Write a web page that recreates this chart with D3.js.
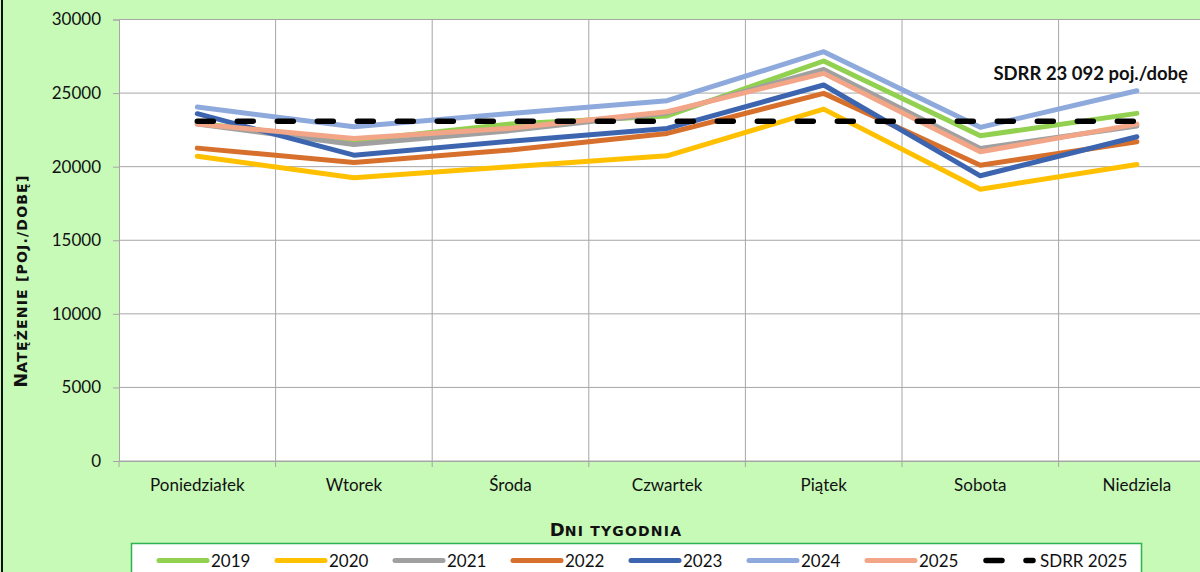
<!DOCTYPE html>
<html>
<head>
<meta charset="utf-8">
<script src="https://cdn.jsdelivr.net/npm/d3@7"></script>
<style>
  body { margin: 0; background: #c7f9b7; }
  svg { display: block; font-family: Lato, "Open Sans", sans-serif; }
</style>
</head>
<body>
<svg width="1200" height="572"></svg>
<script>
const width = 1200;
const height = 572;

const days = ["Poniedziałek", "Wtorek", "Środa", "Czwartek", "Piątek", "Sobota", "Niedziela"];
const years = ["2019", "2020", "2021", "2022", "2023", "2024", "2025"];
const v2019 = [22950, 21760, 22900, 23450, 27180, 22100, 23620];
const v2020 = [20710, 19240, 19990, 20740, 23910, 18470, 20150];
const v2021 = [22900, 21510, 22450, 23650, 26610, 21240, 22760];
const v2022 = [21260, 20290, 21130, 22260, 24980, 20100, 21690];
const v2023 = [23600, 20780, 21730, 22600, 25550, 19380, 22030];
const v2024 = [24050, 22710, 23620, 24480, 27810, 22670, 25160];
const v2025 = [22900, 21920, 22610, 23730, 26340, 21010, 22890];
const sdrr = 23092;
const yTicks = [0, 5000, 10000, 15000, 20000, 25000, 30000];

const colors = ["#92d050", "#ffc000", "#a0a0a0", "#d6702c", "#3d65af", "#8ea9db", "#f2a587"];
const seriesValues = [v2019, v2020, v2021, v2022, v2023, v2024, v2025];

const plot_left = 119;
const plot_top = 19.5;
const plot_bottom = 461;
const band = 156.6;
const grid_color = "#a6a6a6";
const title_font = "'DejaVu Sans', sans-serif";

let svg = d3.select("svg");

svg.append("rect").attr("width", width).attr("height", height).attr("fill", "#c7f9b7");
svg.append("line").attr("x1", 2).attr("x2", 2).attr("y1", 0).attr("y2", height)
  .attr("stroke", "#111").attr("stroke-width", 2);

let x = d3.scaleBand().domain(days).range([plot_left, plot_left + band * days.length]);
let y = d3.scaleLinear().domain([0, 30000]).range([plot_bottom, plot_top]);
let cx = d => x(d) + x.bandwidth() / 2;

// plot area
svg.append("rect")
  .attr("x", plot_left).attr("y", plot_top)
  .attr("width", width - plot_left).attr("height", plot_bottom - plot_top)
  .attr("fill", "white");

// horizontal gridlines
svg.append("g").selectAll("line").data(yTicks).join("line")
  .attr("x1", plot_left).attr("x2", width)
  .attr("y1", d => y(d)).attr("y2", d => y(d))
  .attr("stroke", grid_color).attr("stroke-width", 1);

// vertical gridlines
svg.append("g").selectAll("line").data(days.slice(1)).join("line")
  .attr("x1", d => x(d)).attr("x2", d => x(d))
  .attr("y1", plot_top).attr("y2", plot_bottom)
  .attr("stroke", grid_color).attr("stroke-width", 1);

// y axis
let yAxis = svg.append("g")
  .attr("transform", `translate(${plot_left},0)`)
  .call(d3.axisLeft(y).tickValues(yTicks).tickSize(6).tickPadding(12).tickFormat(d3.format("d")));
yAxis.select(".domain").attr("stroke", grid_color);
yAxis.selectAll(".tick line").attr("stroke", grid_color);
yAxis.selectAll("text").attr("font-size", 17).attr("fill", "#111").attr("font-family", "Lato");

// x axis
let xAxis = svg.append("g")
  .attr("transform", `translate(0,${plot_bottom})`)
  .call(d3.axisBottom(x).tickSize(0).tickPadding(18));
xAxis.select(".domain").attr("stroke", grid_color);
xAxis.selectAll("text").attr("font-size", 17).attr("fill", "#111").attr("font-family", "Lato");
svg.append("g").selectAll("line").data(days).join("line")
  .attr("x1", d => x(d)).attr("x2", d => x(d))
  .attr("y1", plot_bottom).attr("y2", plot_bottom + 6)
  .attr("stroke", grid_color);

// series
let line = d3.line().x((d, i) => cx(days[i])).y(d => y(d));
seriesValues.forEach((vals, i) => {
  svg.append("path")
    .attr("d", line(vals))
    .attr("fill", "none")
    .attr("stroke", colors[i])
    .attr("stroke-width", 5)
    .attr("stroke-linejoin", "round")
    .attr("stroke-linecap", "round");
});

// SDRR dashed
svg.append("path")
  .attr("d", line(days.map(() => sdrr)))
  .attr("fill", "none")
  .attr("stroke", "black")
  .attr("stroke-width", 5.5)
  .attr("stroke-dasharray", "16 24")
  .attr("stroke-linecap", "round");

svg.append("text")
  .attr("x", 1188).attr("y", 80)
  .attr("text-anchor", "end")
  .attr("font-size", 18.5).attr("font-weight", "bold").attr("fill", "#111")
  .text("SDRR 23 092 poj./dobę");

// small caps titles built by hand: first letter big, the rest small capitals
function SmallCaps(sel, text, big, small) {
  sel.append("tspan").attr("font-size", big).text(text[0].toUpperCase());
  sel.append("tspan").attr("font-size", small).attr("letter-spacing", 1.2)
    .text(text.slice(1).toUpperCase());
}

let xTitle = svg.append("text")
  .attr("x", 616).attr("y", 536)
  .attr("text-anchor", "middle")
  .attr("font-family", title_font).attr("font-weight", "bold").attr("fill", "#111");
SmallCaps(xTitle, "Dni tygodnia", 18, 14);

let yTitle = svg.append("text")
  .attr("transform", "translate(27,281) rotate(-90)")
  .attr("text-anchor", "middle")
  .attr("font-family", title_font).attr("font-weight", "bold").attr("fill", "#111");
SmallCaps(yTitle, "Natężenie [poj./dobę]", 17.5, 14);

// legend
let legend = svg.append("g");
legend.append("rect")
  .attr("x", 131.5).attr("y", 543.5).attr("width", 1010).attr("height", 40)
  .attr("fill", "white").attr("stroke", "#2fb350").attr("stroke-width", 1.5);

const legend_x0 = 157;
const legend_step = 118;
const legend_y = 560.5;
years.forEach((yr, i) => {
  let lx = legend_x0 + i * legend_step;
  legend.append("line")
    .attr("x1", lx + 2).attr("x2", lx + 50).attr("y1", legend_y).attr("y2", legend_y)
    .attr("stroke", colors[i]).attr("stroke-width", 5).attr("stroke-linecap", "round");
  legend.append("text")
    .attr("x", lx + 54).attr("y", legend_y + 6)
    .attr("font-size", 17).attr("fill", "#111")
    .text(yr);
});
let sx = legend_x0 + 7 * legend_step;
legend.append("line")
  .attr("x1", sx + 3).attr("x2", sx + 50).attr("y1", legend_y).attr("y2", legend_y)
  .attr("stroke", "black").attr("stroke-width", 5.5)
  .attr("stroke-dasharray", "16 24").attr("stroke-linecap", "round");
legend.append("text")
  .attr("x", sx + 57).attr("y", legend_y + 6)
  .attr("font-size", 17).attr("fill", "#111")
  .text("SDRR 2025");
</script>
</body>
</html>
